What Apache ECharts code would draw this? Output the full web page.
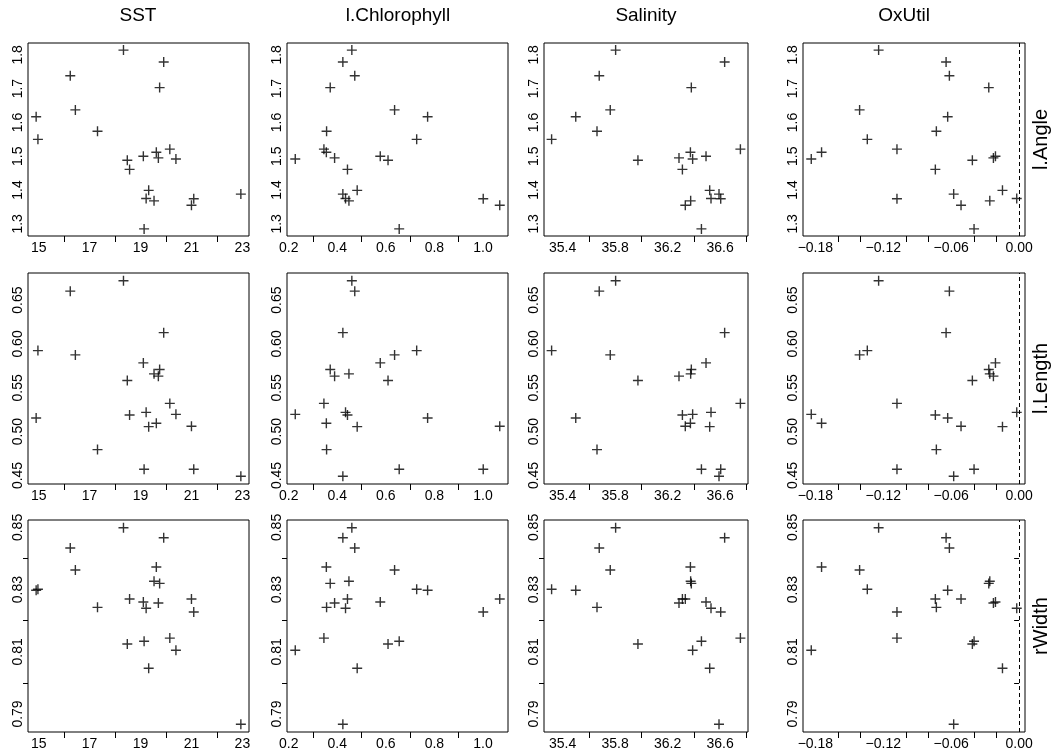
<!DOCTYPE html>
<html>
<head>
<meta charset="utf-8">
<script src="https://cdn.jsdelivr.net/npm/echarts@6/dist/echarts.min.js"></script>
<style>
  html, body { margin: 0; background: #fff; }
  #chart { width: 1051px; height: 753px; }
</style>
</head>
<body>
<div id="chart"></div>
<script>
// 22 stations, same order in every array
const sst = [14.90, 14.97, 16.24, 16.44, 17.31, 18.33, 18.48, 18.57, 19.11, 19.14, 19.22,
             19.32, 19.53, 19.62, 19.75, 19.70, 19.91, 20.15, 20.39, 21.00, 21.09, 22.94];
const chl = [0.772, 0.727, 0.472, 0.636, 0.356, 0.460, 0.609, 0.442, 0.577, 0.655, 0.434,
             0.482, 0.448, 0.355, 0.371, 0.389, 0.423, 0.345, 0.227, 1.069, 1.001, 0.423];
const sal = [35.500, 35.316, 35.679, 35.763, 35.662, 35.804, 35.974, 36.313, 36.493, 36.458, 36.531,
             36.521, 36.376, 36.374, 36.381, 36.287, 36.635, 36.755, 36.391, 36.335, 36.605, 36.592];
const oxUtil = [-0.0631, -0.1341, -0.0616, -0.1409, -0.0731, -0.1241, -0.0413, -0.0740, -0.0209, -0.0398, -0.0021,
                -0.0147, -0.0259, -0.1745, -0.0268, -0.0227, -0.0645, -0.1079, -0.1836, -0.0513, -0.1079, -0.0578];
const angle = [1.617, 1.550, 1.738, 1.637, 1.574, 1.814, 1.488, 1.461, 1.500, 1.285, 1.375,
               1.399, 1.368, 1.512, 1.703, 1.495, 1.779, 1.521, 1.492, 1.355, 1.374, 1.388];
const length = [0.5155, 0.5924, 0.6602, 0.5875, 0.4795, 0.6720, 0.5583, 0.5189, 0.5784, 0.4572, 0.5220,
                0.5057, 0.5659, 0.5095, 0.5708, 0.5633, 0.6129, 0.5322, 0.5197, 0.5061, 0.4572, 0.4492];
const width = [0.8298, 0.8301, 0.8434, 0.8363, 0.8243, 0.8499, 0.8125, 0.8270, 0.8260, 0.8134, 0.8240,
               0.8047, 0.8327, 0.8373, 0.8320, 0.8257, 0.8467, 0.8144, 0.8105, 0.8270, 0.8228, 0.7867];

const xNames = ['SST', 'l.Chlorophyll', 'Salinity', 'OxUtil'];
const yNames = ['l.Angle', 'l.Length', 'rWidth'];
const xVars = [sst, chl, sal, oxUtil];
const yVars = [angle, length, width];

// axis limits
const xLims = [[14.58, 23.26], [0.193, 1.103], [35.258, 36.813], [-0.1909, 0.0052]];
const yLims = [[1.264, 1.835], [0.4403, 0.6809], [0.7842, 0.8524]];

// tick positions and the ones that carry a label
const sstTicks = [15, 16, 17, 18, 19, 20, 21, 22, 23];
const sstLabels = [15, 17, 19, 21, 23];
const chlTicks = [0.2, 0.3, 0.4, 0.5, 0.6, 0.7, 0.8, 0.9, 1.0];
const chlLabels = [0.2, 0.4, 0.6, 0.8, 1.0];
const salTicks = [35.4, 35.6, 35.8, 36.0, 36.2, 36.4, 36.6, 36.8];
const salLabels = [35.4, 35.8, 36.2, 36.6];
const oxTicks = [-0.18, -0.16, -0.14, -0.12, -0.10, -0.08, -0.06, -0.04, -0.02, 0];
const oxLabels = [-0.18, -0.12, -0.06, 0];
const angleTicks = [1.3, 1.4, 1.5, 1.6, 1.7, 1.8];
const angleLabels = [1.3, 1.4, 1.5, 1.6, 1.7, 1.8];
const lengthTicks = [0.45, 0.50, 0.55, 0.60, 0.65];
const lengthLabels = [0.45, 0.50, 0.55, 0.60, 0.65];
const widthTicks = [0.79, 0.80, 0.81, 0.82, 0.83, 0.84, 0.85];
const widthLabels = [0.79, 0.81, 0.83, 0.85];

const xTicks = [sstTicks, chlTicks, salTicks, oxTicks];
const xLabels = [sstLabels, chlLabels, salLabels, oxLabels];
const xDigits = [0, 1, 1, 2];
const yTicks = [angleTicks, lengthTicks, widthTicks];
const yLabels = [angleLabels, lengthLabels, widthLabels];
const yDigits = [1, 2, 2];

// panel boxes (px)
const colLeft = [28, 287, 544, 803];
const colRight = [249, 508, 748, 1025];
const rowTop = [43, 273, 520];
const rowBottom = [236, 484, 732];

const FONT = '"Liberation Sans", Arial, Helvetica, sans-serif';
const plusSymbol = 'path://M0,5L10,5M5,0L5,10';

function fmt(v, d) {
  const s = Math.abs(v).toFixed(d);
  return (v < -1e-9 ? '\u2212' : '') + s;
}

var chartDom = document.getElementById('chart');
var myChart = echarts.init(chartDom, null, { renderer: 'canvas' });

const grids = [], xAxes = [], yAxes = [], series = [];

for (let r = 0; r < 3; r++) {
  for (let c = 0; c < 4; c++) {
    const k = r * 4 + c;
    grids.push({
      left: colLeft[c],
      top: rowTop[r],
      width: colRight[c] - colLeft[c],
      height: rowBottom[r] - rowTop[r],
      show: true,
      borderColor: '#000',
      borderWidth: 1,
      backgroundColor: 'transparent',
      containLabel: false,
      outerBoundsMode: 'none'
    });
    xAxes.push({
      type: 'value',
      gridIndex: k,
      min: xLims[c][0],
      max: xLims[c][1],
      axisLine: { show: false },
      splitLine: { show: false },
      axisTick: {
        show: true,
        length: 6,
        lineStyle: { color: '#000', width: 1 },
        customValues: xTicks[c].filter((t) => !xLabels[c].includes(t))
      },
      axisLabel: {
        customValues: xLabels[c],
        formatter: (v) => fmt(v, xDigits[c]),
        margin: 5,
        color: '#000',
        fontSize: 14,
        fontFamily: FONT,
        showMinLabel: true,
        showMaxLabel: true,
        hideOverlap: false
      }
    });
    yAxes.push({
      type: 'value',
      gridIndex: k,
      min: yLims[r][0],
      max: yLims[r][1],
      axisLine: { show: false },
      splitLine: { show: false },
      axisTick: {
        show: true,
        length: 5,
        lineStyle: { color: '#000', width: 1 },
        customValues: yTicks[r].filter((t) => !yLabels[r].includes(t))
      },
      axisLabel: {
        customValues: yLabels[r],
        formatter: (v) => fmt(v, yDigits[r]),
        rotate: 90,
        margin: 3,
        color: '#000',
        fontSize: 14,
        fontFamily: FONT,
        showMinLabel: true,
        showMaxLabel: true,
        hideOverlap: false
      }
    });
    const s = {
      type: 'scatter',
      xAxisIndex: k,
      yAxisIndex: k,
      data: xVars[c].map((x, i) => [x, yVars[r][i]]),
      symbol: plusSymbol,
      symbolSize: 10,
      itemStyle: { color: 'transparent', borderColor: '#000', borderWidth: 1.4 },
      emphasis: { disabled: true },
      silent: true
    };
    if (c === 3) {
      // zero line for oxygen utilisation
      s.markLine = {
        silent: true,
        symbol: 'none',
        label: { show: false },
        lineStyle: { color: '#000', type: [4, 3], width: 1 },
        data: [{ xAxis: 0 }]
      };
    }
    series.push(s);
  }
}

const graphics = [];
const titleX = [138, 398, 646, 904];
xNames.forEach((name, c) => {
  graphics.push({
    type: 'text',
    x: titleX[c],
    y: 16,
    style: { text: name, fontSize: 19, fontFamily: FONT, fill: '#000', align: 'center', verticalAlign: 'middle' }
  });
});
yNames.forEach((name, r) => {
  graphics.push({
    type: 'text',
    x: 1041,
    y: (rowTop[r] + rowBottom[r]) / 2,
    rotation: Math.PI / 2,
    style: { text: name, fontSize: 20, fontFamily: FONT, fill: '#000', align: 'center', verticalAlign: 'middle' }
  });
});

var option = {
  animation: false,
  backgroundColor: '#fff',
  grid: grids,
  xAxis: xAxes,
  yAxis: yAxes,
  series: series,
  graphic: graphics
};

myChart.setOption(option);
</script>
</body>
</html>
